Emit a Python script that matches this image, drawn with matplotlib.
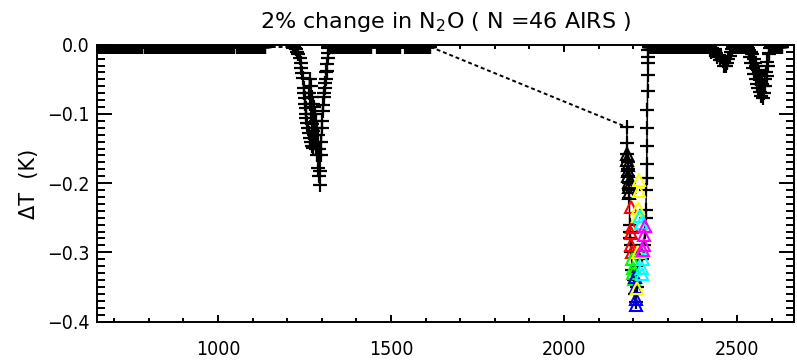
import numpy as np
import matplotlib
matplotlib.use("Agg")
import matplotlib.pyplot as plt
from matplotlib.ticker import MultipleLocator, FixedLocator

# ---------------- data (wavenumber cm-1, dT in K) ----------------
# AIRS module ranges where the response is ~zero (channel grid ~1 cm-1)
flat_ranges = [(649.6, 682.0), (687.6, 728.4), (728.5, 781.9), (789.3, 852.4),
               (851.6, 903.8), (911.2, 974.0), (973.8, 1046.2), (1056.1, 1136.6),
               (1338.2, 1443.1), (1460.4, 1527.0), (1541.1, 1613.9),
               (2246.0, 2418.0), (2490.0, 2528.0), (2600.0, 2630.0)]
flat_value = -0.003

# 1285 cm-1 N2O band, module M-4d
m4d_x = [1217, 1220, 1223, 1226, 1229, 1232, 1236, 1239, 1241, 1243, 1245, 1247,
         1249, 1250, 1252, 1253, 1254, 1255, 1257, 1260, 1262, 1265, 1268, 1271, 1274]
m4d_y = [-0.003, -0.003, -0.004, -0.006, -0.01, -0.014, -0.019, -0.027, -0.034, -0.041,
         -0.048, -0.062, -0.07, -0.077, -0.085, -0.091, -0.1, -0.106, -0.113, -0.12,
         -0.127, -0.135, -0.14, -0.146, -0.149]
# module M-4c
m4c_x = [1263, 1264.5, 1266, 1267.5, 1269, 1270.5, 1272, 1273.5, 1275, 1276.5,
         1278, 1279.5, 1281, 1282.5, 1284, 1285.5, 1287, 1288.5, 1290, 1291.5,
         1293, 1294, 1295, 1296.5, 1298, 1299.5, 1301, 1302.5, 1304, 1305.5,
         1307, 1308.5, 1310, 1311.5, 1313, 1314.5, 1316, 1317.5, 1319, 1322,
         1325, 1330, 1336]
m4c_y = [-0.07, -0.05, -0.085, -0.06, -0.1, -0.075, -0.115, -0.085, -0.125, -0.09,
         -0.13, -0.1, -0.14, -0.11, -0.15, -0.12, -0.16, -0.13, -0.178, -0.15,
         -0.19, -0.202, -0.182, -0.14, -0.159, -0.12, -0.11, -0.087, -0.095, -0.075,
         -0.07, -0.062, -0.055, -0.05, -0.04, -0.038, -0.028, -0.019, -0.012, -0.005,
         -0.003, -0.003, -0.003]

# 2224 cm-1 N2O band
m1b_x = [2181.5, 2182.4, 2183.3, 2184.2, 2185.1, 2186.0, 2187.0, 2188.0, 2189.0,
         2190.0, 2191.0, 2192.0, 2193.0, 2194.0, 2198.0, 2202.0, 2206.0, 2208.0,
         2211.0, 2214.0, 2218.0, 2222.0, 2226.0, 2230.0, 2234.0, 2236.0, 2237.0,
         2238.0, 2238.6, 2239.2, 2239.8, 2240.4, 2241.0, 2241.6, 2242.2, 2242.8,
         2243.4, 2244.0, 2245.0]
m1b_y = [-0.119, -0.142, -0.158, -0.17, -0.18, -0.19, -0.2, -0.21, -0.222, -0.26,
         -0.27, -0.28, -0.29, -0.30, -0.325, -0.34, -0.36, -0.372, -0.35, -0.32,
         -0.3, -0.3, -0.31, -0.29, -0.27, -0.25, -0.239, -0.21, -0.193, -0.173,
         -0.147, -0.12, -0.094, -0.067, -0.043, -0.026, -0.017, -0.008, -0.003]

# 2420-2600 cm-1 region
m1a_x = [2419, 2423, 2426, 2429, 2432, 2436, 2440, 2443, 2447, 2451, 2455, 2459,
         2463, 2467, 2471, 2475, 2479, 2483, 2487, 2490]
m1a_y = [-0.003, -0.007, -0.01, -0.005, -0.008, -0.006, -0.012, -0.018, -0.015, -0.022,
         -0.018, -0.024, -0.03, -0.031, -0.026, -0.02, -0.016, -0.011, -0.006, -0.003]
v_x = [2528, 2530, 2532, 2534, 2536, 2538, 2540, 2542, 2544, 2546, 2548, 2550, 2552,
       2554, 2556, 2558, 2560, 2562, 2564, 2566, 2568, 2570, 2572, 2574, 2576, 2578,
       2580, 2582, 2584, 2586, 2588, 2590, 2592, 2594, 2596, 2598, 2600]
v_y = [-0.003, -0.003, -0.005, -0.01, -0.007, -0.018, -0.01, -0.026, -0.014, -0.034,
       -0.02, -0.042, -0.026, -0.05, -0.03, -0.057, -0.036, -0.062, -0.042, -0.068,
       -0.05, -0.074, -0.056, -0.077, -0.06, -0.07, -0.05, -0.06, -0.04, -0.045,
       -0.025, -0.03, -0.012, -0.014, -0.005, -0.003, -0.003]

# triangles
black_tri_x = [2182, 2183, 2184, 2185, 2186, 2187, 2188, 2189]
black_tri_y = [-0.158, -0.166, -0.174, -0.182, -0.19, -0.198, -0.206, -0.214]
red_x = [2193, 2196, 2194, 2193, 2196]
red_y = [-0.234, -0.263, -0.272, -0.289, -0.299]
green_x = [2197, 2199, 2201, 2202]
green_y = [-0.31, -0.322, -0.33, -0.338]
blue_x = [2205, 2207, 2208, 2208]
blue_y = [-0.335, -0.35, -0.367, -0.376]
yellow_x = [2216, 2217, 2215, 2214, 2213, 2212]
yellow_y = [-0.195, -0.212, -0.236, -0.248, -0.3, -0.352]
cyan_x = [2220, 2222, 2226, 2228, 2227, 2225]
cyan_y = [-0.248, -0.258, -0.298, -0.31, -0.322, -0.332]
magenta_x = [2233, 2231, 2230, 2229]
magenta_y = [-0.262, -0.275, -0.29, -0.297]

title = "2% change in N$_2$O ( N =46 AIRS )"
ylabel = "\u0394T  (K)"
xticks = [1000, 1500, 2000, 2500]
yticks = [0.0, -0.1, -0.2, -0.3, -0.4]

# ---------------- plot ----------------
plt.rcParams['font.family'] = ['DejaVu Sans']
plt.rcParams['mathtext.default'] = 'regular'

fig = plt.figure(figsize=(7.97, 3.61), dpi=100)
ax = fig.add_axes([97 / 797, 1 - 321.5 / 361, (794 - 97) / 797, (321.5 - 44.8) / 361])

pk = dict(color='black', marker='+', ms=9.5, mew=1.6, lw=1.1)
for a, b in flat_ranges:
    xs = np.arange(a, b + 0.01, 1.0)
    ax.plot(xs, np.full_like(xs, flat_value), **pk)

ax.plot(m4d_x, m4d_y, **pk)
ax.plot(m4c_x, m4c_y, **pk)
ax.plot(m1b_x, m1b_y, **pk)
ax.plot(m1a_x, m1a_y, **pk)
ax.plot(v_x, v_y, **pk)

# gaps between modules drawn dotted
dash = dict(color='black', lw=1.4, ls=(0, (2.0, 1.5)))
ax.plot([1136.6, m4d_x[0]], [flat_value, m4d_y[0]], **dash)
ax.plot([1613.9, m1b_x[0]], [flat_value, m1b_y[0]], **dash)

tk = dict(marker='^', ms=9, mew=1.5, mfc='none', ls='none')
ax.plot(black_tri_x, black_tri_y, mec='black', **tk)
ax.plot(red_x, red_y, mec='red', **tk)
ax.plot(green_x, green_y, mec='#00ff00', **tk)
ax.plot(blue_x, blue_y, mec='blue', **tk)
ax.plot(yellow_x, yellow_y, mec='#ffff00', **tk)
ax.plot(cyan_x, cyan_y, mec='#00ffff', **tk)
ax.plot(magenta_x, magenta_y, mec='#ff00ff', **tk)

ax.set_xlim(650, 2665)
ax.set_ylim(-0.4, 0.0)

ax.xaxis.set_major_locator(FixedLocator(xticks))
ax.xaxis.set_minor_locator(MultipleLocator(100))
ax.yaxis.set_major_locator(FixedLocator(yticks))
ax.yaxis.set_minor_locator(MultipleLocator(0.01))
ax.set_xticklabels([str(v) for v in xticks])
ax.set_yticklabels([("%.1f" % v).replace("-", "\u2212") if v != 0 else "0.0"
                    for v in yticks])

for s in ax.spines.values():
    s.set_linewidth(1.4)
ax.tick_params(axis='both', which='both', direction='in', top=True, right=True,
               width=1.4, labelsize=14)
ax.tick_params(axis='x', which='major', length=5, pad=13)
ax.tick_params(axis='x', which='minor', length=3.2)
ax.tick_params(axis='y', which='major', length=10.5, pad=5)
ax.tick_params(axis='y', which='minor', length=5.5)
for lab in ax.get_xticklabels() + ax.get_yticklabels():
    lab.set_fontstretch('condensed')

fig.text(445.5 / 797, 1 - 22 / 361, title, ha='center', va='center', fontsize=16)
fig.text(28.5 / 797, 1 - 184 / 361, ylabel, rotation=90, ha='center', va='center',
         fontsize=15)

fig.savefig("out.png", dpi=100)
